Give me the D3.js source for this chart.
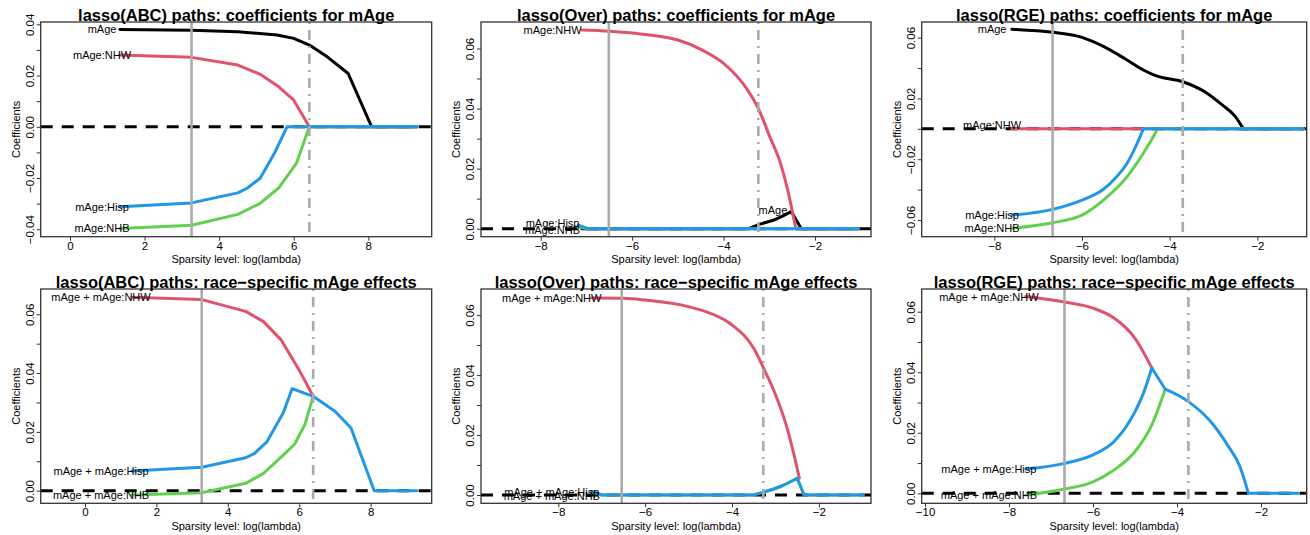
<!DOCTYPE html>
<html><head><meta charset="utf-8">
<script src="https://cdn.jsdelivr.net/npm/d3@7"></script>
<style>body{margin:0;background:#fff} svg{display:block}</style>
</head><body><svg id="c" width="1310" height="535"></svg>
<script>
// ---------------- DATA ----------------
const topLabels = ["mAge", "mAge:NHW", "mAge:Hisp", "mAge:NHB"];
const botLabels = ["mAge + mAge:NHW", "mAge + mAge:Hisp", "mAge + mAge:NHB"];
const titles = [
  "lasso(ABC) paths: coefficients for mAge",
  "lasso(Over) paths: coefficients for mAge",
  "lasso(RGE) paths: coefficients for mAge",
  "lasso(ABC) paths: race\u2212specific mAge effects",
  "lasso(Over) paths: race\u2212specific mAge effects",
  "lasso(RGE) paths: race\u2212specific mAge effects"
];
const xTitle = "Sparsity level: log(lambda)";
const yTitle = "Coefficients";

const xTicksABC = [0, 2, 4, 6, 8];
const xTicksNeg = [-8, -6, -4, -2];
const xTicksNeg10 = [-10, -8, -6, -4, -2];
const yTicksP1 = [-0.04, -0.03, -0.02, -0.01, 0, 0.01, 0.02, 0.03, 0.04];
const yLabelsP1 = [-0.04, -0.02, 0, 0.02, 0.04];
const yTicksPos = [0, 0.01, 0.02, 0.03, 0.04, 0.05, 0.06];
const yLabelsPos = [0, 0.02, 0.04, 0.06];
const yTicksP3 = [-0.06, -0.04, -0.02, 0, 0.02, 0.04, 0.06];
const yLabelsP3 = [-0.06, -0.02, 0.02, 0.06];

// Panel 1: lasso(ABC) coefficients
const p1_mAge_x = [1.34, 3.26, 4.5, 5.55, 6.0, 6.42, 6.9, 7.46, 8.09, 9.3];
const p1_mAge_y = [0.0380, 0.0377, 0.0371, 0.0358, 0.0345, 0.0319, 0.0273, 0.0208, 0, 0];
const p1_NHW_x = [1.34, 3.26, 4.5, 5.1, 5.6, 6.0, 6.42, 9.3];
const p1_NHW_y = [0.0280, 0.0271, 0.0241, 0.0205, 0.0156, 0.0104, 0, 0];
const p1_NHB_x = [1.34, 3.26, 4.5, 5.1, 5.6, 6.07, 6.42, 9.3];
const p1_NHB_y = [-0.0397, -0.0384, -0.0342, -0.0299, -0.0238, -0.0143, 0, 0];
const p1_Hisp_x = [1.34, 3.26, 4.5, 4.75, 5.1, 5.5, 5.82, 9.3];
const p1_Hisp_y = [-0.0312, -0.0297, -0.0258, -0.0240, -0.0201, -0.0098, 0, 0];
const p1_labX = [0.86, 0.86, 0.86, 0.86];
const p1_labY = [0.0380, 0.0280, -0.0312, -0.0397];
const p1_vlines = [3.26, 6.42];

// Panel 2: lasso(Over) coefficients
const p2_mAge_x = [-7.10, -3.45, -3.2, -2.9, -2.52, -2.3, -1.05];
const p2_mAge_y = [0, 0, 0.0015, 0.0029, 0.0057, 0, 0];
const p2_NHW_x = [-7.10, -6.5, -6.0, -5.0, -4.5, -4.0, -3.5, -3.24, -3.0, -2.75, -2.6, -2.42, -1.05];
const p2_NHW_y = [0.0661, 0.0657, 0.0651, 0.0628, 0.0597, 0.0550, 0.0467, 0.0400, 0.0310, 0.0215, 0.0130, 0, 0];
const p2_NHB_x = [-7.18, -6.96, -1.05];
const p2_NHB_y = [0.0006, 0, 0];
const p2_Hisp_x = [-7.18, -6.96, -1.05];
const p2_Hisp_y = [0.0012, 0, 0];
const p2_labX = [-2.92, -7.74, -7.74, -7.74];
const p2_labY = [0.0062, 0.0661, 0.0020, -0.0004];
const p2_vlines = [-6.51, -3.24];

// Panel 3: lasso(RGE) coefficients
const p3_mAge_x = [-7.6, -6.67, -6.0, -5.5, -5.0, -4.6, -4.3, -3.7, -3.2, -2.8, -2.5, -2.32, -0.95];
const p3_mAge_y = [0.0655, 0.0635, 0.0602, 0.0541, 0.0458, 0.0387, 0.0348, 0.0310, 0.0244, 0.0157, 0.0080, 0, 0];
const p3_NHW_x = [-7.6, -0.95];
const p3_NHW_y = [0, 0];
const p3_NHB_x = [-7.6, -6.67, -6.0, -5.51, -4.97, -4.6, -4.27, -0.95];
const p3_NHB_y = [-0.0655, -0.0618, -0.0568, -0.0469, -0.0315, -0.0161, 0, 0];
const p3_Hisp_x = [-7.6, -6.67, -6.0, -5.51, -5.21, -4.97, -4.74, -4.6, -0.95];
const p3_Hisp_y = [-0.0568, -0.0530, -0.0469, -0.0398, -0.0315, -0.0227, -0.0095, 0, 0];
const p3_labX = [-8.05, -8.05, -8.05, -8.05];
const p3_labY = [0.0655, 0.0025, -0.0568, -0.0655];
const p3_vlines = [-6.67, -3.70];

// Panel 4: lasso(ABC) race-specific effects
const p4_NHW_x = [1.31, 3.27, 4.5, 5.0, 5.5, 6.0, 6.39];
const p4_NHW_y = [0.0658, 0.0650, 0.0610, 0.0575, 0.0512, 0.0410, 0.0321];
const p4_NHB_x = [1.31, 3.27, 4.5, 5.0, 5.55, 5.87, 6.16, 6.39];
const p4_NHB_y = [-0.0015, -0.0007, 0.0025, 0.0059, 0.0121, 0.0158, 0.0225, 0.0321];
const p4_Hisp_x = [1.31, 3.27, 4.5, 4.75, 5.1, 5.55, 5.8, 6.39, 7.0, 7.45, 8.1, 9.29];
const p4_Hisp_y = [0.0067, 0.0080, 0.0112, 0.0127, 0.0167, 0.0264, 0.0347, 0.0321, 0.0270, 0.0213, 0, 0];
const p4_labX = [0.45, 0.45, 0.45];
const p4_labY = [0.0658, 0.0067, -0.0015];
const p4_vlines = [3.27, 6.39];

// Panel 5: lasso(Over) race-specific effects
const p5_NHW_x = [-7.23, -6.5, -6.0, -5.0, -4.5, -4.0, -3.5, -3.28, -3.0, -2.75, -2.55, -2.45];
const p5_NHW_y = [0.0657, 0.0656, 0.0650, 0.0628, 0.0606, 0.0567, 0.0489, 0.0425, 0.0335, 0.0232, 0.0120, 0.0056];
const p5_NHB_x = [-7.23, -7.0, -3.51, -3.17, -2.86, -2.5, -2.34, -0.98];
const p5_NHB_y = [0.0006, 0, 0, 0.0014, 0.0030, 0.0056, 0, 0];
const p5_Hisp_x = [-7.23, -7.0, -3.51, -3.17, -2.86, -2.5, -2.34, -0.98];
const p5_Hisp_y = [0.0012, 0, 0, 0.0014, 0.0030, 0.0056, 0, 0];
const p5_labX = [-8.15, -8.15, -8.15];
const p5_labY = [0.0657, 0.0011, -0.0003];
const p5_vlines = [-6.54, -3.28];

// Panel 6: lasso(RGE) race-specific effects
const p6_NHW_x = [-7.6, -6.68, -6.0, -5.5, -5.0, -4.6];
const p6_NHW_y = [0.0650, 0.0632, 0.0612, 0.0579, 0.0512, 0.0414];
const p6_NHB_x = [-7.6, -6.68, -6.0, -5.5, -5.0, -4.6, -4.28];
const p6_NHB_y = [-0.0006, 0.0014, 0.0038, 0.0077, 0.0138, 0.0226, 0.0344];
const p6_Hisp_x = [-7.6, -6.68, -6.0, -5.5, -5.0, -4.8, -4.6, -4.28, -3.73, -3.2, -2.8, -2.5, -2.3, -1.11];
const p6_Hisp_y = [0.0080, 0.0099, 0.0127, 0.0171, 0.0270, 0.0331, 0.0414, 0.0344, 0.0303, 0.0237, 0.0160, 0.0088, 0, 0];
const p6_labX = [-8.48, -8.48, -8.48];
const p6_labY = [0.0648, 0.0080, -0.0006];
const p6_vlines = [-6.68, -3.73];

// ---------------- STYLE / LAYOUT ----------------
const COL = {mAge: "#000000", NHW: "#DF536B", NHB: "#61D04F", Hisp: "#2297E6"};
const FONT = "'Liberation Sans', Arial, Helvetica, sans-serif";

const panels = [
  {box: [40.7, 22, 431.7, 236.7], xd: [-0.785, 9.70], yd: [-0.0429, 0.0409], xt: xTicksABC, yt: yTicksP1, yl: yLabelsP1,
   smooth: false, vl: p1_vlines, labs: topLabels, lx: p1_labX, ly: p1_labY,
   series: [["mAge", p1_mAge_x, p1_mAge_y], ["NHW", p1_NHW_x, p1_NHW_y], ["NHB", p1_NHB_x, p1_NHB_y], ["Hisp", p1_Hisp_x, p1_Hisp_y]]},
  {box: [481, 22, 871, 236.7], xd: [-9.306, -0.776], yd: [-0.00266, 0.0688], xt: xTicksNeg, yt: yTicksPos, yl: yLabelsPos,
   smooth: true, vl: p2_vlines, labs: topLabels, lx: p2_labX, ly: p2_labY,
   series: [["mAge", p2_mAge_x, p2_mAge_y], ["NHW", p2_NHW_x, p2_NHW_y], ["NHB", p2_NHB_x, p2_NHB_y], ["Hisp", p2_Hisp_x, p2_Hisp_y]]},
  {box: [921.7, 22, 1306.7, 236.7], xd: [-9.656, -0.873], yd: [-0.0710, 0.0703], xt: xTicksNeg, yt: yTicksP3, yl: yLabelsP3,
   smooth: true, vl: p3_vlines, labs: topLabels, lx: p3_labX, ly: p3_labY,
   series: [["mAge", p3_mAge_x, p3_mAge_y], ["NHW", p3_NHW_x, p3_NHW_y], ["NHB", p3_NHB_x, p3_NHB_y], ["Hisp", p3_Hisp_x, p3_Hisp_y]]},
  {box: [40.7, 289, 431.7, 503.3], xd: [-1.24, 9.71], yd: [-0.00429, 0.0686], xt: xTicksABC, yt: yTicksPos, yl: yLabelsPos,
   smooth: false, vl: p4_vlines, labs: botLabels, lx: p4_labX, ly: p4_labY,
   series: [["NHW", p4_NHW_x, p4_NHW_y], ["NHB", p4_NHB_x, p4_NHB_y], ["Hisp", p4_Hisp_x, p4_Hisp_y]]},
  {box: [481, 289, 871, 503.3], xd: [-9.78, -0.80], yd: [-0.00277, 0.0687], xt: xTicksNeg, yt: yTicksPos, yl: yLabelsPos,
   smooth: true, vl: p5_vlines, labs: botLabels, lx: p5_labX, ly: p5_labY,
   series: [["NHW", p5_NHW_x, p5_NHW_y], ["NHB", p5_NHB_x, p5_NHB_y], ["Hisp", p5_Hisp_x, p5_Hisp_y]]},
  {box: [921.7, 289, 1306.7, 503.3], xd: [-10.08, -0.912], yd: [-0.0033, 0.0675], xt: xTicksNeg10, yt: yTicksPos, yl: yLabelsPos,
   smooth: true, vl: p6_vlines, labs: botLabels, lx: p6_labX, ly: p6_labY,
   series: [["NHW", p6_NHW_x, p6_NHW_y], ["NHB", p6_NHB_x, p6_NHB_y], ["Hisp", p6_Hisp_x, p6_Hisp_y]]}
];

// split a path at sharp slope changes so smooth segments keep real corners
function pieces(pts) {
  const out = [];
  let cur = [pts[0]];
  for (let k = 1; k < pts.length; k++) {
    cur.push(pts[k]);
    if (k < pts.length - 1) {
      const s1 = (pts[k][1] - pts[k - 1][1]) / (pts[k][0] - pts[k - 1][0]);
      const s2 = (pts[k + 1][1] - pts[k][1]) / (pts[k + 1][0] - pts[k][0]);
      const a1 = Math.abs(s1), a2 = Math.abs(s2);
      const sg = v => Math.abs(v) < 1e-7 ? 0 : Math.sign(v);
      const kink = (sg(s1) !== sg(s2)) ||
        (Math.max(a1, a2) > 0.01 && Math.max(a1, a2) / Math.max(Math.min(a1, a2), 1e-9) > 2.8);
      if (kink) { out.push(cur); cur = [pts[k]]; }
    }
  }
  if (cur.length > 1) out.push(cur);
  return out;
}

const svg = d3.select("#c");
svg.append("rect").attr("width", 1310).attr("height", 535).attr("fill", "#fff");

panels.forEach((p, i) => {
  const [L, T, R, B] = p.box;
  const x = d3.scaleLinear().domain(p.xd).range([L, R]);
  const y = d3.scaleLinear().domain(p.yd).range([B, T]);
  const g = svg.append("g");
  const cid = "clip" + i;
  svg.append("clipPath").attr("id", cid).append("rect")
    .attr("x", L).attr("y", T).attr("width", R - L).attr("height", B - T);
  const plot = g.append("g").attr("clip-path", `url(#${cid})`);

  // zero reference (dashed)
  plot.append("line")
    .attr("x1", x(p.xd[0])).attr("x2", x(p.xd[1]))
    .attr("y1", y(0)).attr("y2", y(0))
    .attr("stroke", "#000").attr("stroke-width", 3)
    .attr("stroke-dasharray", "12,9");

  // paths
  const line = d3.line().x(d => x(d[0])).y(d => y(d[1]))
    .curve(p.smooth ? d3.curveMonotoneX : d3.curveLinear);
  p.series.forEach(([name, xs, ys]) => {
    const pts = xs.map((v, k) => [v, ys[k]]);
    const segs = p.smooth ? pieces(pts) : [pts];
    const d = segs.map(s => line(s)).join("");
    plot.append("path").attr("d", d)
      .attr("fill", "none").attr("stroke", COL[name]).attr("stroke-width", 3)
      .attr("stroke-linejoin", "round").attr("stroke-linecap", "round");
  });

  // vertical reference lines
  plot.append("line").attr("x1", x(p.vl[0])).attr("x2", x(p.vl[0]))
    .attr("y1", T).attr("y2", B).attr("stroke", "#ababab").attr("stroke-width", 2.6);
  plot.append("line").attr("x1", x(p.vl[1])).attr("x2", x(p.vl[1]))
    .attr("y1", T).attr("y2", B).attr("stroke", "#ababab").attr("stroke-width", 2.6)
    .attr("stroke-dasharray", "2,6,10,6");

  // box
  g.append("rect").attr("x", L).attr("y", T).attr("width", R - L).attr("height", B - T)
    .attr("fill", "none").attr("stroke", "#333").attr("stroke-width", 1.3);

  // axes
  const fmtX = d3.format("d");
  const fmtY = d3.format(".2f");
  const ax = g.append("g").attr("transform", `translate(0,${B})`)
    .call(d3.axisBottom(x).tickValues(p.xt).tickSize(4).tickPadding(2).tickFormat(fmtX));
  ax.select(".domain").remove();
  ax.selectAll("text").attr("font-size", 11.5).attr("font-family", FONT).attr("fill", "#000")
    .attr("y", 8.8).attr("dy", "0.35em");
  ax.selectAll("line").attr("stroke", "#333");

  const labelled = new Set(p.yl.map(v => v.toFixed(3)));
  const ay = g.append("g").attr("transform", `translate(${L},0)`)
    .call(d3.axisLeft(y).tickValues(p.yt).tickSize(4)
      .tickFormat(v => labelled.has(v.toFixed(3)) ? fmtY(v) : ""));
  ay.select(".domain").remove();
  ay.selectAll("line").attr("stroke", "#333");
  ay.selectAll("text").attr("font-size", 11.5).attr("font-family", FONT).attr("fill", "#000")
    .attr("x", null).attr("text-anchor", "middle")
    .attr("transform", "translate(-11,0) rotate(-90)").attr("y", 0).attr("dy", "0.35em");

  // axis titles
  g.append("text").attr("x", (L + R) / 2).attr("y", B + 22.5).attr("dy", "0.35em")
    .attr("text-anchor", "middle").attr("font-size", 11).attr("font-family", FONT).text(xTitle);
  g.append("text").attr("transform", `translate(${L - 25},${(T + B) / 2}) rotate(-90)`)
    .attr("dy", "0.35em").attr("text-anchor", "middle").attr("font-size", 11)
    .attr("font-family", FONT).text(yTitle);

  // title
  g.append("text").attr("x", (L + R) / 2).attr("y", T - 1.5)
    .attr("text-anchor", "middle").attr("font-size", 16.5).attr("font-weight", "bold")
    .attr("font-family", FONT).text(titles[i]);

  // path labels (overlapping exactly as in the original figure)
  p.labs.forEach((t, k) => {
    g.append("text").attr("x", x(p.lx[k])).attr("y", y(p.ly[k])).attr("dy", "0.35em")
      .attr("text-anchor", "middle").attr("font-size", 11).attr("font-family", FONT)
      .attr("fill", "#000").text(t);
  });
});
</script></body></html>
